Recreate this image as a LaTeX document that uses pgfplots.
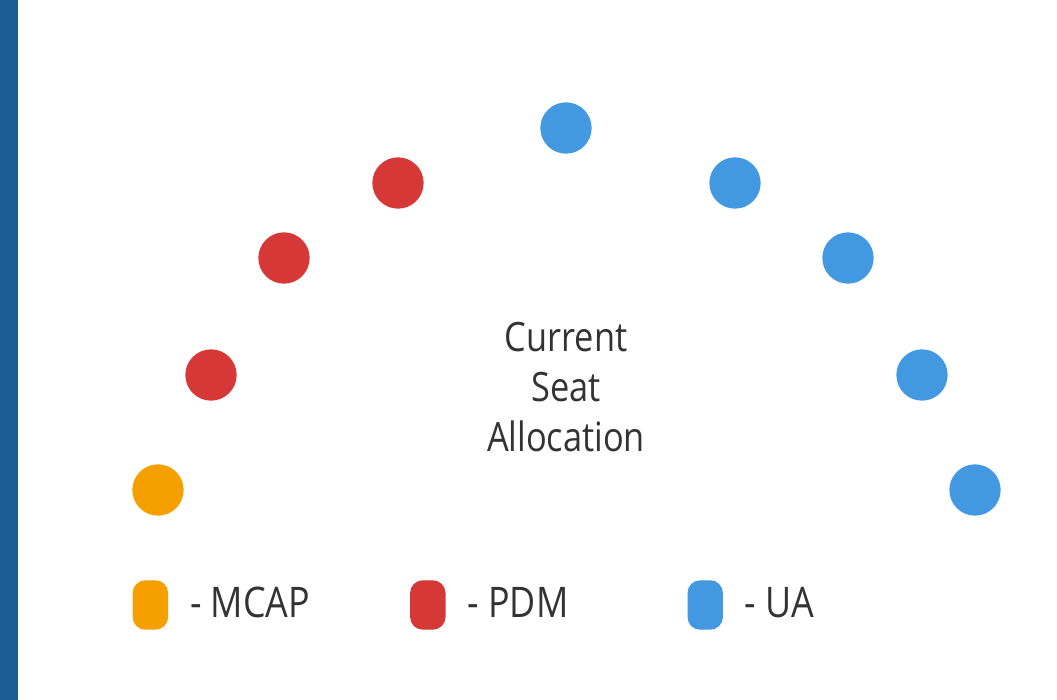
\documentclass[border=0pt]{standalone}
\usepackage{fontspec}
\setmainfont{Open Sans}[FakeStretch=0.85]
\usepackage{pgfplots}
\pgfplotsset{compat=1.18}
\definecolor{mcap}{HTML}{F5A000}
\definecolor{pdm}{HTML}{D63838}
\definecolor{ua}{HTML}{4299E1}
\definecolor{txt}{HTML}{333333}
\definecolor{strip}{HTML}{1B5E96}
\begin{document}
\begin{tikzpicture}
\begin{axis}[
  scale only axis, width=105.7mm, height=70mm,
  xmin=0, xmax=1057, ymin=0, ymax=700, y dir=reverse,
  hide axis, clip=false,
  legend columns=3,
  legend style={at={(axis cs:132,605)}, anchor=west, draw=none, fill=none,
    inner sep=0pt, column sep=2.2mm, nodes={inner sep=0pt, text=txt},
    font=\fontsize{12}{14}\selectfont},
  legend cell align=left,
]
\fill[white] (axis cs:0,0) rectangle (axis cs:1057,700);
\fill[strip] (axis cs:0,0) rectangle (axis cs:18,700);
\addplot[only marks, mark=*, mark size=7.1pt, color=mcap,
  legend image code/.code={\fill[mcap, rounded corners=1.2mm] (0mm,-2.4mm) rectangle (3.4mm,2.4mm);}]
  coordinates {(158,490)};
\addlegendentry{\makebox[19.8mm][l]{- MCAP}}
\addplot[only marks, mark=*, mark size=7.1pt, color=pdm,
  legend image code/.code={\fill[pdm, rounded corners=1.2mm] (0mm,-2.4mm) rectangle (3.4mm,2.4mm);}]
  coordinates {(211,375) (284,258) (398,183)};
\addlegendentry{\makebox[19.8mm][l]{- PDM}}
\addplot[only marks, mark=*, mark size=7.1pt, color=ua,
  legend image code/.code={\fill[ua, rounded corners=1.2mm] (0mm,-2.4mm) rectangle (3.4mm,2.4mm);}]
  coordinates {(566,128) (735,183) (848,258) (922,375) (975,490)};
\addlegendentry{\makebox[19.8mm][l]{- UA}}
\node[align=center, text=txt, font=\fontsize{11.5}{14.2}\selectfont] at (axis cs:566,387) {Current\\Seat\\Allocation};
\end{axis}
\end{tikzpicture}
\end{document}
